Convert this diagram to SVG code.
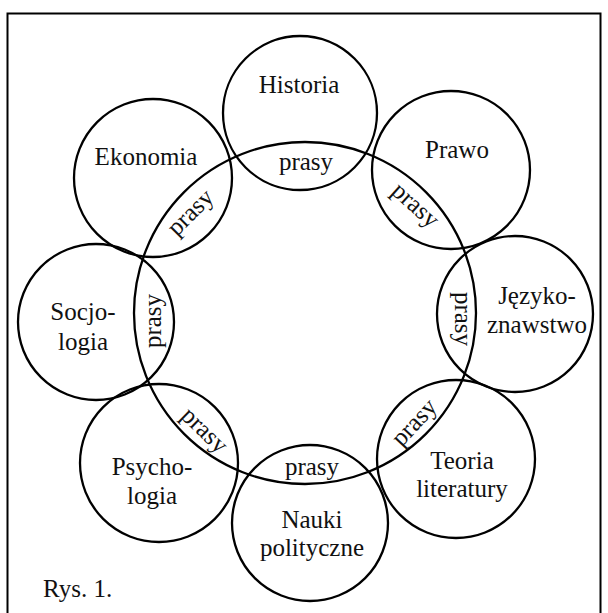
<svg xmlns="http://www.w3.org/2000/svg" width="608" height="613" viewBox="0 0 608 613">
<style>
.c{fill:none;stroke:#000;stroke-width:2.3}
text{font-family:"Liberation Serif","Times New Roman",serif;font-size:25px;fill:#111;text-anchor:middle}
</style>
<rect x="0" y="0" width="608" height="613" fill="#fff"/>
<rect x="7.5" y="13.5" width="593" height="615" fill="none" stroke="#000" stroke-width="2"/>
<g id="connectors"></g>
<g id="center"><circle class="c" cx="305" cy="313" r="171"/></g>
<g id="historia"><circle class="c" cx="300" cy="113" r="77"/><text x="299" y="93">Historia</text></g>
<g id="prawo"><circle class="c" cx="451" cy="170" r="79"/><text x="457" y="158">Prawo</text></g>
<g id="ekonomia"><circle class="c" cx="153" cy="178" r="79"/><text x="146" y="165">Ekonomia</text></g>
<g id="socjologia"><circle class="c" cx="96" cy="322" r="78"/><text x="83" y="320">Socjo-</text><text x="83" y="350">logia</text></g>
<g id="jezykoznawstwo"><circle class="c" cx="515" cy="314" r="78"/><text x="537" y="304">Języko-</text><text x="537" y="333">znawstwo</text></g>
<g id="psychologia"><circle class="c" cx="159" cy="463" r="79"/><text x="152" y="475">Psycho-</text><text x="152" y="504">logia</text></g>
<g id="nauki"><circle class="c" cx="310" cy="523" r="78"/><text x="312" y="528">Nauki</text><text x="312" y="556">polityczne</text></g>
<g id="teoria"><circle class="c" cx="456" cy="459" r="79"/><text x="462" y="469">Teoria</text><text x="462" y="497">literatury</text></g>
<g id="labels">
<text x="306" y="170">prasy</text>
<text x="312" y="475">prasy</text>
<text transform="translate(157,321) rotate(-90)" y="4">prasy</text>
<text transform="translate(459,319) rotate(90)" y="4">prasy</text>
<text transform="translate(193,215) rotate(-45)" y="4">prasy</text>
<text transform="translate(413,208) rotate(42)" y="4">prasy</text>
<text transform="translate(202,433) rotate(44)" y="4">prasy</text>
<text transform="translate(417,425) rotate(-47)" y="4">prasy</text>
</g>
<text x="43" y="597" style="text-anchor:start">Rys. 1.</text>
</svg>
